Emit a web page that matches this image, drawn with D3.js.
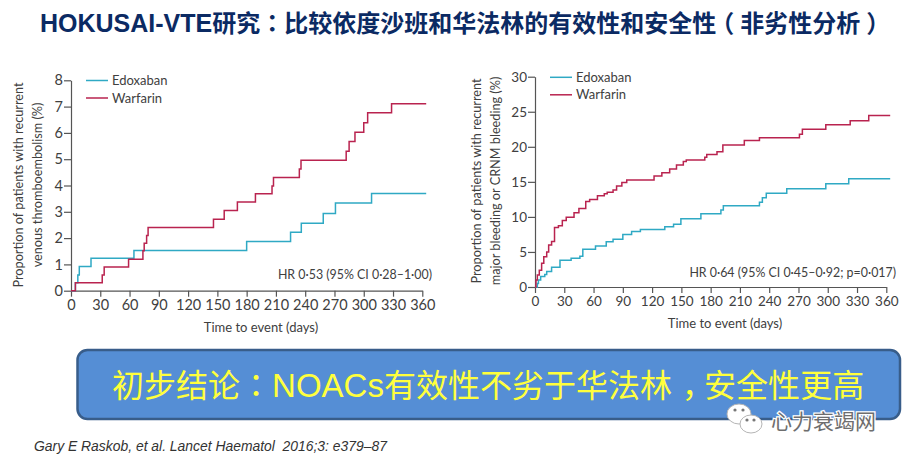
<!DOCTYPE html>
<html>
<head>
<meta charset="utf-8">
<script src="https://cdn.jsdelivr.net/npm/d3@7"></script>
<style>
  html, body { margin: 0; padding: 0; background: #fff; }
  text { font-family: Lato, "Noto Sans CJK SC", sans-serif; fill: #404040; }
</style>
</head>
<body>
<div id="chart"></div>
<script>
const titleText = "HOKUSAI-VTE研究：比较依度沙班和华法林的有效性和安全性（非劣性分析）";
const conclusionText = "初步结论：NOACs有效性不劣于华法林，安全性更高";
const citationText = "Gary E Raskob, et al. Lancet Haematol  2016;3: e379–87";
const watermarkText = "心力衰竭网";
const seriesNames = ["Edoxaban", "Warfarin"];
const xTicks = [0, 30, 60, 90, 120, 150, 180, 210, 240, 270, 300, 330, 360];

// left panel: recurrent VTE
const vteTicks = [0, 1, 2, 3, 4, 5, 6, 7, 8];
const vteEdoDays = [0, 4.5, 7, 8.5, 20.5, 64.5, 180, 225, 236, 258.5, 271, 308, 364];
const vteEdoVals = [0, 0.3, 0.6, 0.92, 1.23, 1.53, 1.87, 2.22, 2.56, 2.94, 3.33, 3.7, 3.7];
const vteWarDays = [0, 4.5, 32, 34, 59, 73.7, 75, 77.5, 79, 146, 157, 170.5, 189, 206, 207.5, 234, 235.7, 282, 285, 291, 300, 304, 328.5, 364];
const vteWarVals = [0, 0.3, 0.6, 0.9, 1.2, 1.52, 1.8, 2.1, 2.4, 2.72, 3.05, 3.37, 3.69, 3.98, 4.3, 4.63, 4.96, 5.3, 5.67, 6.02, 6.39, 6.77, 7.11, 7.11];

// right panel: major or CRNM bleeding
const bleedTicks = [0, 5, 10, 15, 20, 25, 30];
const bleedEdoDays = [0, 2.4, 3.5, 5.8, 10, 12, 17, 25.6, 37, 46, 49, 62, 73, 80, 90, 99, 108, 133, 142, 149.5, 170, 190.5, 193, 230, 233, 237, 258, 298, 321.5, 364];
const bleedEdoVals = [0, 0.5, 1, 1.5, 1.8, 2.2, 2.8, 3.8, 4.1, 4.4, 5.4, 5.85, 6.45, 6.8, 7.5, 7.9, 8.2, 8.6, 8.95, 9.75, 10.46, 11, 11.6, 12.1, 12.74, 13.36, 14, 14.74, 15.45, 15.45];
const bleedWarDays = [0, 1, 2.4, 4.4, 6.8, 9, 12, 14, 17, 20, 24, 28, 32, 40, 45, 52, 56, 64, 71, 74, 80, 83.6, 89, 94, 122, 130, 138, 145, 152, 155, 174, 176, 186.5, 192.5, 214.5, 230, 271, 274, 298, 323, 342, 364];
const bleedWarVals = [0, 1, 1.7, 2.4, 3.4, 4.3, 5, 6, 6.5, 8.5, 8.75, 9.5, 9.95, 10.6, 11.2, 12.2, 12.5, 13, 13.3, 13.5, 13.85, 14.4, 14.9, 15.25, 15.85, 16.3, 16.85, 17.4, 17.9, 18.1, 18.5, 18.9, 19.3, 20.25, 20.9, 21.3, 21.8, 22.5, 23.15, 23.7, 24.45, 24.45];

const colors = ["#2fa9c4", "#b9234f"];
const width = 908;
const height = 460;

const svg = d3
  .select("#chart")
  .append("svg")
  .attr("width", width)
  .attr("height", height)
  .style("display", "block");

// latin runs and CJK runs have different sizes in the slide, punctuation sits centred in its cell
const punctShift = { "（": -0.25, "）": 0.25, "，": 0.3 };
const mixedText = (el, text, latinSize, cjkSize) => {
  let prev = 0;
  text.match(/[\x00-\x7f]+|[^\x00-\x7f]/g).forEach((part) => {
    const isLatin = /^[\x00-\x7f]/.test(part);
    const centred = "：（）".includes(part);
    const shift = (punctShift[part] || 0) * cjkSize;
    el.append("tspan")
      .attr("dx", shift - prev)
      .attr("font-size", isLatin ? latinSize : cjkSize)
      .style("font-family", isLatin ? '"Liberation Sans"' : centred ? '"Noto Sans CJK TC"' : '"Noto Sans CJK SC"')
      .text(part);
    prev = shift;
  });
};

mixedText(
  svg
    .append("text")
    .attr("x", 40)
    .attr("y", 32)
    .attr("font-weight", 700)
    .style("fill", "#0b2a63"),
  titleText,
  25,
  24
);

const drawPanel = (p) => {
  const x = d3.scaleLinear().domain([0, 360]).range([p.left, p.right]);
  const y = d3.scaleLinear().domain(p.yDomain).range([p.bottom, p.top]);
  const g = svg.append("g");

  const xAxis = g
    .append("g")
    .attr("transform", `translate(0,${p.bottom})`)
    .call(d3.axisBottom(x).tickValues(xTicks).tickSize(6).tickSizeOuter(0).tickFormat(d3.format("d")));
  const yAxis = g
    .append("g")
    .attr("transform", `translate(${p.left},0)`)
    .call(d3.axisLeft(y).tickValues(p.yTicks).tickSize(7).tickSizeOuter(0).tickFormat(d3.format("d")));

  [xAxis, yAxis].forEach((a) => {
    a.attr("font-family", null).attr("font-size", null);
    a.selectAll("path, line").attr("stroke", "#555").attr("stroke-width", 1.2);
    a.selectAll("text").attr("font-size", p.tickSize);
  });
  xAxis.selectAll("text").attr("y", 9);
  yAxis.selectAll("text").attr("x", -8);

  const line = d3
    .line()
    .x((d) => x(d[0]))
    .y((d) => y(d[1]))
    .curve(d3.curveStepAfter);

  p.series.forEach((s, i) => {
    g.append("path")
      .datum(d3.zip(s[0], s[1]))
      .attr("d", line)
      .attr("fill", "none")
      .attr("stroke", colors[i])
      .attr("stroke-width", 1.5);

    g.append("line")
      .attr("x1", p.legendX)
      .attr("x2", p.legendX + 22)
      .attr("y1", p.legendY + i * 17.5)
      .attr("y2", p.legendY + i * 17.5)
      .attr("stroke", colors[i])
      .attr("stroke-width", 1.5);

    g.append("text")
      .attr("x", p.legendX + 26)
      .attr("y", p.legendY + i * 17.5 + 4.5)
      .attr("font-size", 13)
      .text(seriesNames[i]);
  });

  p.yLabels.forEach((t, i) => {
    g.append("text")
      .attr("transform", `translate(${p.yLabelX + i * 18.5},${p.yLabelY}) rotate(-90)`)
      .attr("text-anchor", "middle")
      .attr("font-size", 12.7)
      .text(t);
  });

  g.append("text")
    .attr("x", p.xTitleX)
    .attr("y", p.xTitleY)
    .attr("text-anchor", "middle")
    .attr("font-size", 13)
    .text("Time to event (days)");

  g.append("text")
    .attr("x", p.hrX)
    .attr("y", p.hrY)
    .attr("text-anchor", "end")
    .attr("font-size", 12.4)
    .text(p.hr);
};

drawPanel({
  left: 71, right: 422.3, top: 80.3, bottom: 290.7,
  yDomain: [0, 8], yTicks: vteTicks, tickSize: 14.5,
  series: [[vteEdoDays, vteEdoVals], [vteWarDays, vteWarVals]],
  legendX: 86, legendY: 80.5,
  yLabels: ["Proportion of patients with recurrent", "venous thromboembolism (%)"],
  yLabelX: 23, yLabelY: 185,
  xTitleX: 261, xTitleY: 332,
  hr: "HR 0·53 (95% CI 0·28–1·00)", hrX: 432, hrY: 279,
});

drawPanel({
  left: 535, right: 886.3, top: 76.7, bottom: 287,
  yDomain: [0, 30], yTicks: bleedTicks, tickSize: 13.5,
  series: [[bleedEdoDays, bleedEdoVals], [bleedWarDays, bleedWarVals]],
  legendX: 550, legendY: 77.3,
  yLabels: ["Proportion of patients with recurrent", "major bleeding or CRNM bleeding (%)"],
  yLabelX: 481, yLabelY: 181,
  xTitleX: 725, xTitleY: 328,
  hr: "HR 0·64 (95% CI 0·45–0·92; p=0·017)", hrX: 896, hrY: 277,
});

// conclusion box
svg
  .append("rect")
  .attr("x", 77.5)
  .attr("y", 350)
  .attr("width", 822.5)
  .attr("height", 69)
  .attr("rx", 10)
  .attr("fill", "#558ed5")
  .attr("stroke", "#385d8a")
  .attr("stroke-width", 2.5);

mixedText(
  svg.append("text").attr("x", 112).attr("y", 397).style("fill", "#ffff3c"),
  conclusionText,
  33,
  32
);

// wechat style watermark
const wm = svg.append("g").attr("transform", "translate(733,404)");
[[6, 10, 12, 10], [18, 20, 11, 9]].forEach((b) => {
  wm.append("ellipse")
    .attr("cx", b[0])
    .attr("cy", b[1])
    .attr("rx", b[2])
    .attr("ry", b[3])
    .attr("fill", "#fff")
    .attr("stroke", "#b5b5b5")
    .attr("stroke-width", 1);
});
[[2, 6], [10, 6], [14, 16], [21, 16]].forEach((d) => {
  wm.append("circle").attr("cx", d[0]).attr("cy", d[1]).attr("r", 1.6).attr("fill", "#777");
});

svg
  .append("text")
  .attr("x", 771)
  .attr("y", 429)
  .attr("font-size", 21)
  .style("font-family", '"Noto Sans CJK SC", sans-serif')
  .style("fill", "#6e6e6e")
  .style("paint-order", "stroke")
  .style("stroke", "#fff")
  .style("stroke-width", 2.5)
  .text(watermarkText);

svg
  .append("text")
  .attr("x", 34)
  .attr("y", 451)
  .attr("font-size", 13.9)
  .attr("font-style", "italic")
  .style("white-space", "pre")
  .style("font-family", '"Liberation Sans", sans-serif')
  .style("fill", "#333")
  .text(citationText);
</script>
</body>
</html>
